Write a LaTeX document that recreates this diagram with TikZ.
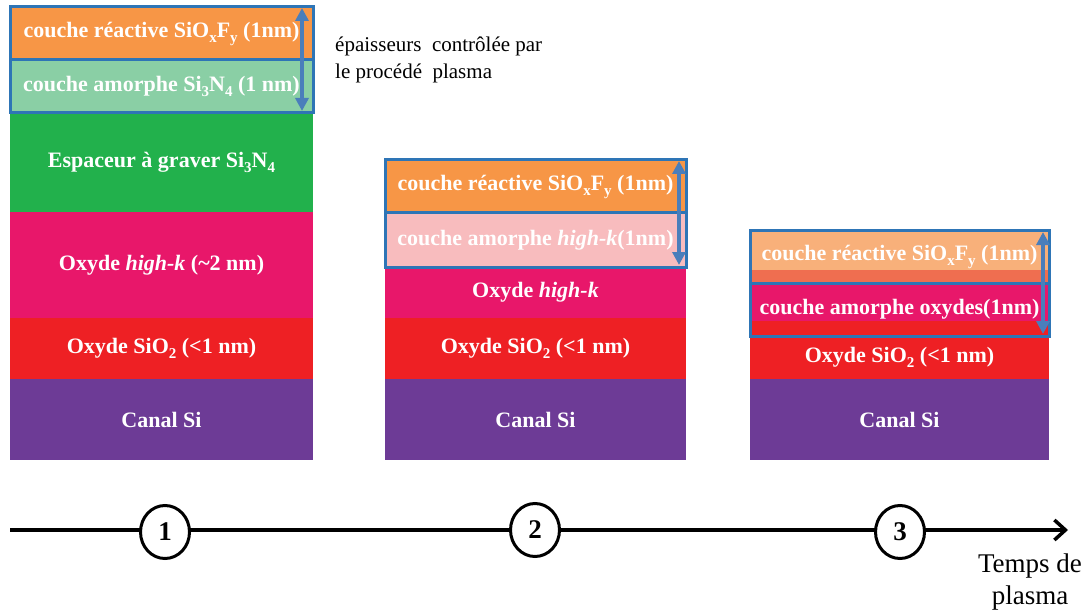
\documentclass[tikz,border=0pt]{standalone}
\usepackage{fontspec}
\setmainfont{Liberation Serif}
\usetikzlibrary{arrows.meta,shapes.geometric}
\definecolor{corange}{HTML}{F79646}
\definecolor{clorange}{HTML}{F8B07A}
\definecolor{ccoral}{HTML}{EF6E50}
\definecolor{clgreen}{HTML}{8ACFA5}
\definecolor{cgreen}{HTML}{22B14C}
\definecolor{cpink}{HTML}{E8176A}
\definecolor{clpink}{HTML}{F8BCBE}
\definecolor{cred}{HTML}{EE2024}
\definecolor{cpurple}{HTML}{6D3B96}
\definecolor{cblue}{HTML}{2E75B6}
\definecolor{carrow}{HTML}{4A7EBB}
\newcommand{\lowsub}[1]{\raisebox{-5pt}{\fontsize{15}{15}\selectfont #1}}
\tikzset{
  layer/.style={anchor=north west, inner sep=0pt, outer sep=0pt, text=white,
    font=\fontsize{22}{26}\selectfont\bfseries, align=center},
  outline/.style={draw=cblue, line width=3pt},
  thick arrow/.style={carrow, line width=3.5pt, {Triangle[length=13pt,width=13pt]}-{Triangle[length=13pt,width=13pt]}},
  step circle/.style={ellipse, draw=black, line width=3pt, fill=white, minimum width=49pt, minimum height=53pt, inner sep=0pt, font=\fontsize{27}{30}\selectfont\bfseries},
  plain text/.style={font=\fontsize{21}{24}\selectfont, anchor=west, inner sep=0pt}
}
\begin{document}
\begin{tikzpicture}[x=1pt,y=-1pt]
\useasboundingbox (0,0) rectangle (1091,612);
% ---------- stack 1 ----------
\node[layer, fill=corange, minimum width=303pt, minimum height=53pt] (r1) at (10,7) {couche réactive SiO\lowsub{x}F\lowsub{y} (1nm)};
\node[layer, fill=clgreen, minimum width=303pt, minimum height=53pt] (a1) at (10,60) {couche amorphe Si\lowsub{3}N\lowsub{4} (1 nm)};
\node[layer, fill=cgreen, minimum width=303pt, minimum height=99pt] (e1) at (10,113) {Espaceur à graver Si\lowsub{3}N\lowsub{4}};
\node[layer, fill=cpink, minimum width=303pt, minimum height=106pt] (h1) at (10,212) {Oxyde \textit{high-k} (\textasciitilde2 nm)};
\node[layer, fill=cred, minimum width=303pt, minimum height=61pt] (s1) at (10,318) {Oxyde SiO\lowsub{2} (<1 nm)};
\node[layer, fill=cpurple, minimum width=303pt, minimum height=81pt] (c1) at (10,379) {Canal Si};
\draw[outline] (r1.north west) rectangle (a1.south east);
\draw[outline] (r1.south west) -- (r1.south east);
\coordinate (t1) at (302,8);
\coordinate (b1) at (302,111);
\draw[thick arrow] (t1) -- (b1);
\node[plain text] (note) at (335,46) {épaisseurs\ \ contrôlée par};
\node[plain text] (note2) at (335,73) {le procédé\ \ plasma};
% ---------- stack 2 ----------
\node[layer, fill=corange, minimum width=301pt, minimum height=53pt] (r2) at (385,160) {couche réactive SiO\lowsub{x}F\lowsub{y} (1nm)};
\node[layer, fill=clpink, minimum width=301pt, minimum height=54pt] (a2) at (385,213) {couche amorphe \textit{high-k}(1nm)};
\node[layer, fill=cpink, minimum width=301pt, minimum height=51pt] (h2) at (385,267) {Oxyde \textit{high-k}};
\node[layer, fill=cred, minimum width=301pt, minimum height=61pt] (s2) at (385,318) {Oxyde SiO\lowsub{2} (<1 nm)};
\node[layer, fill=cpurple, minimum width=301pt, minimum height=81pt] (c2) at (385,379) {Canal Si};
\draw[outline] (r2.north west) rectangle (a2.south east);
\draw[outline] (r2.south west) -- (r2.south east);
\coordinate (t2) at (679,161);
\coordinate (b2) at (679,265);
\draw[thick arrow] (t2) -- (b2);
% ---------- stack 3 ----------
\fill[clorange] (750,231) rectangle (1049,270);
\fill[ccoral] (750,270) rectangle (1049,283);
\fill[cpink] (750,283) rectangle (1049,321);
\fill[cred] (750,321) rectangle (1049,336);
\node[layer, minimum width=299pt, minimum height=52pt] (r3) at (750,231) {couche réactive SiO\lowsub{x}F\lowsub{y} (1nm)};
\node[layer, minimum width=299pt, minimum height=53pt] (a3) at (750,283) {couche amorphe oxydes(1nm)};
\node[layer, fill=cred, minimum width=299pt, minimum height=43pt] (s3) at (750,336) {\raisebox{6pt}{Oxyde SiO\lowsub{2} (<1 nm)}};
\node[layer, fill=cpurple, minimum width=299pt, minimum height=81pt] (c3) at (750,379) {Canal Si};
\draw[outline] (r3.north west) rectangle (a3.south east);
\draw[outline] (r3.south west) -- (r3.south east);
\coordinate (t3) at (1043,232);
\coordinate (b3) at (1043,334);
\draw[thick arrow] (t3) -- (b3);
% ---------- timeline ----------
\coordinate (tl0) at (10,530);
\coordinate (tl1) at (1068,530);
\draw[line width=3.5pt, -{Straight Barb[length=11pt,width=20pt,line width=3.5pt]}] (tl0) -- (tl1);
\node[step circle] (n1) at (165,532) {1};
\node[step circle] (n2) at (535,530) {2};
\node[step circle] (n3) at (900,532) {3};
\node[font=\fontsize{27}{32}\selectfont, align=center, inner sep=0pt] (tp) at (1030,582) {Temps de\\plasma};
\end{tikzpicture}
\end{document}
